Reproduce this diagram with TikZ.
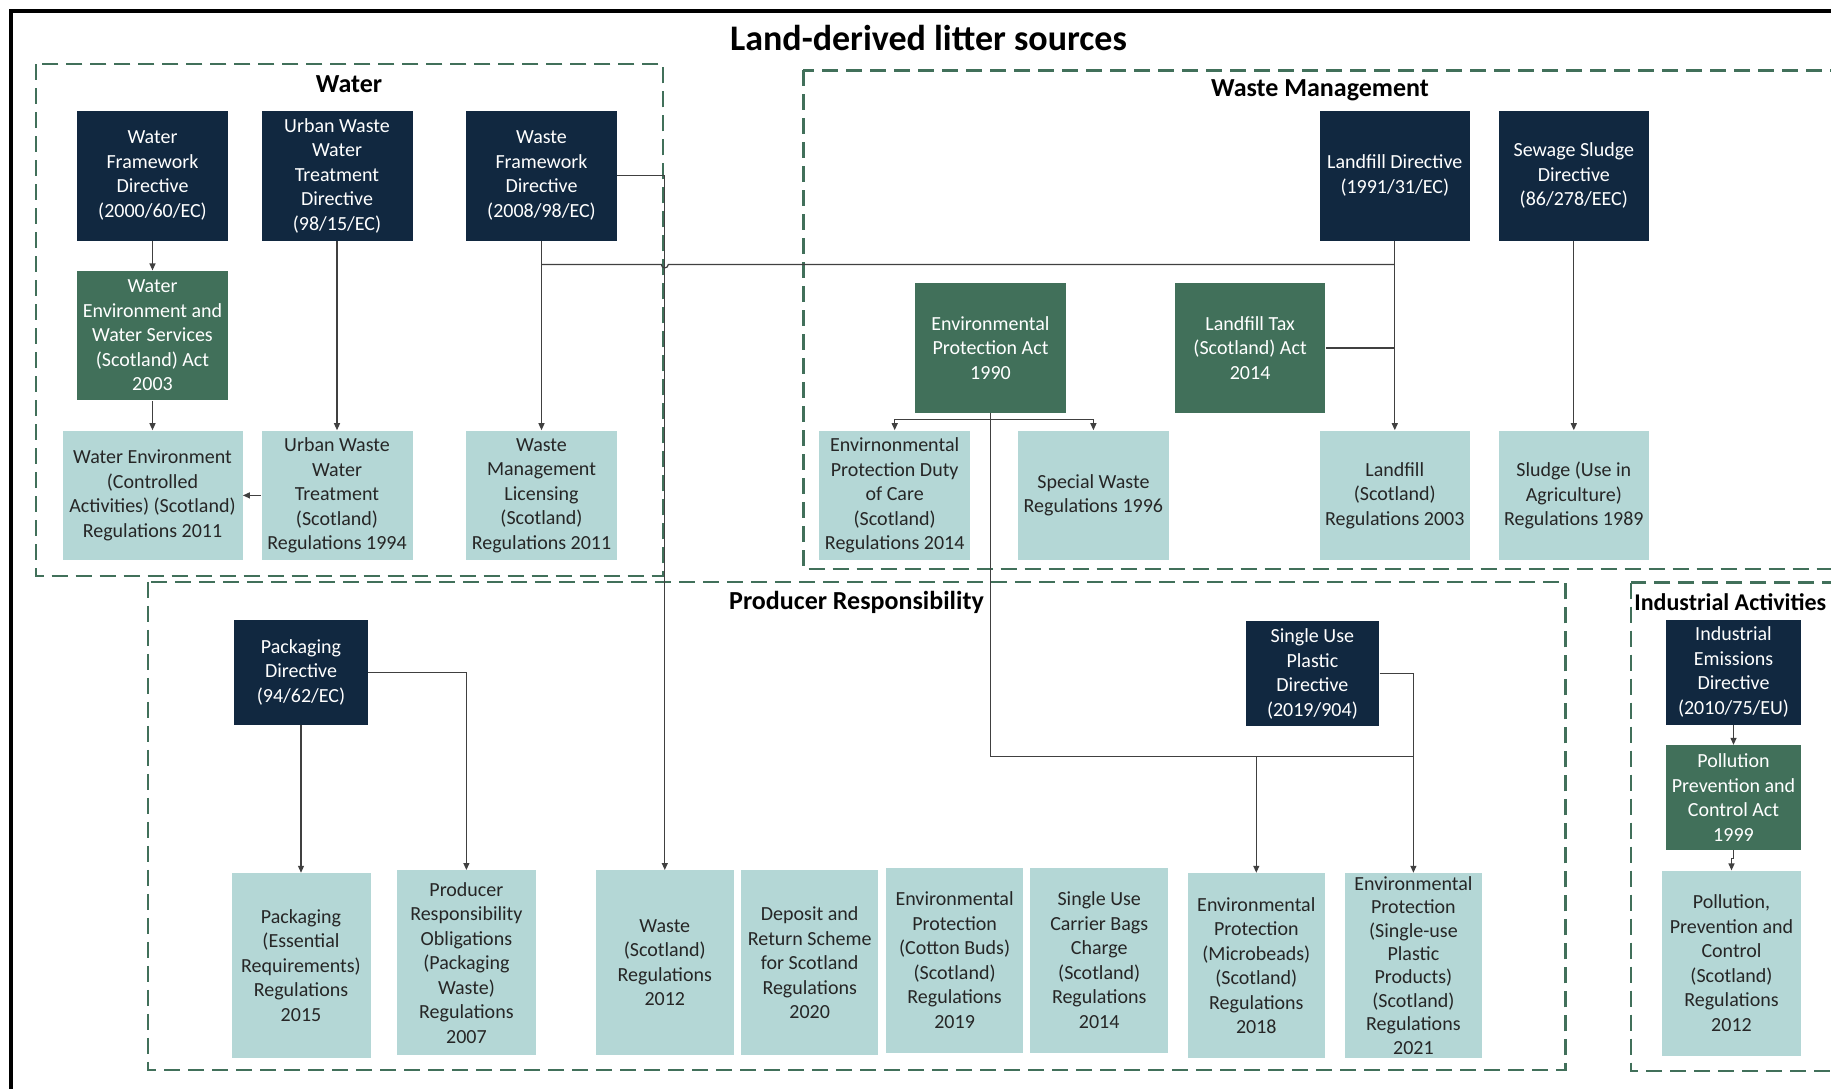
\documentclass[tikz,border=0pt]{standalone}
\usepackage{fontspec}
\setmainfont{Carlito}
\usetikzlibrary{arrows.meta,calc}
\definecolor{navy}{HTML}{112840}
\definecolor{dgreen}{HTML}{41705A}
\definecolor{tealbox}{HTML}{B4D7D6}
\definecolor{dashgreen}{HTML}{41705A}
\begin{document}
\begin{tikzpicture}[x=0.5pt,y=-0.5pt,
  box/.style={inner sep=0pt, align=center, font=\fontsize{10}{12.25}\selectfont},
  dirbox/.style={box, fill=navy, text=white},
  actbox/.style={box, fill=dgreen, text=white},
  regbox/.style={box, fill=tealbox, text=black!85},
  sz/.style 2 args={minimum width=#1*0.5pt, minimum height=#2*0.5pt},
  grp/.style={draw=dashgreen, line width=1.2pt, dash pattern=on 8pt off 4pt},
  conn/.style={line width=0.6pt, draw=black!75},
  arr/.style={conn, -{Triangle[length=3.5pt,width=3pt]}},
  gtitle/.style={inner sep=0pt, font=\bfseries\fontsize{13}{15}\selectfont}]
\useasboundingbox (0,0) rectangle (1831,1088);
\clip (0,0) rectangle (1831,1088);
\fill[white] (0,0) rectangle (1831,1088);
% outer frame
\draw[line width=2pt] (11,1100) -- (11,11) -- (1850,11);
% groups
\draw[grp] (35.7,64) rectangle (663,576);
\draw[grp] (803.3,70.4) rectangle (1870,569);
\draw[grp] (148.1,581.9) rectangle (1565.3,1070);
\draw[grp] (1630.8,582.6) rectangle (1870,1071);
% titles
\node[inner sep=0pt, font=\bfseries\fontsize{18}{21}\selectfont] (title) at (928.5,38) {Land-derived litter sources};
\node[gtitle] (twater) at (349,84.4) {Water};
\node[gtitle] (twm) at (1320,90.7) {Waste Management};
\node[gtitle] (tpr) at (856.5,602.5) {Producer Responsibility};
\node[gtitle, anchor=west, font=\bfseries\fontsize{12}{14}\selectfont] (tind) at (1634,602) {Industrial Activities};
% Water
\node[dirbox, sz={151}{130}] (wfd) at (152.5,175.5) {Water\\Framework\\Directive\\(2000/60/EC)};
\node[dirbox, sz={151}{130}] (uwwtd) at (337,175.5) {Urban Waste\\Water\\Treatment\\Directive\\(98/15/EC)};
\node[dirbox, sz={151}{130}] (wastefd) at (541.5,175.5) {Waste\\Framework\\Directive\\(2008/98/EC)};
\node[actbox, sz={151}{129.6}] (wews) at (152.5,335.6) {Water\\Environment and\\Water Services\\(Scotland) Act\\2003};
\node[regbox, sz={180}{129.6}] (wecar) at (152.5,495.4) {Water Environment\\(Controlled\\Activities) (Scotland)\\Regulations 2011};
\node[regbox, sz={151}{129.6}] (uwwtr) at (337,495.4) {Urban Waste\\Water\\Treatment\\(Scotland)\\Regulations 1994};
\node[regbox, sz={151}{129.6}] (wml) at (541.5,495.4) {Waste\\Management\\Licensing\\(Scotland)\\Regulations 2011};
% Waste management
\node[dirbox, sz={150.5}{130}] (lfd) at (1394.8,175.5) {Landfill Directive\\(1991/31/EC)};
\node[dirbox, sz={150.5}{130}] (ssd) at (1573.8,175.5) {Sewage Sludge\\Directive\\(86/278/EEC)};
\node[actbox, sz={151}{129.3}] (epa) at (990.5,348) {Environmental\\Protection Act\\1990};
\node[actbox, sz={150.6}{129.3}] (lft) at (1250.1,348) {Landfill Tax\\(Scotland) Act\\2014};
\node[regbox, sz={150.5}{129.6}] (docr) at (894.7,495.4) {Envirnonmental\\Protection Duty\\of Care\\(Scotland)\\Regulations 2014};
\node[regbox, sz={151}{129.6}] (swr) at (1093.4,495.4) {Special Waste\\Regulations 1996};
\node[regbox, sz={150.5}{129.6}] (lfr) at (1394.8,495.4) {Landfill\\(Scotland)\\Regulations 2003};
\node[regbox, sz={150.5}{129.6}] (sr) at (1573.8,495.4) {Sludge (Use in\\Agriculture)\\Regulations 1989};
% Producer responsibility
\node[dirbox, sz={133.8}{105}] (pkd) at (301,672.1) {Packaging\\Directive\\(94/62/EC)};
\node[dirbox, sz={133.4}{104.7}] (sup) at (1312.4,673.7) {Single Use\\Plastic\\Directive\\(2019/904)};
\node[regbox, sz={139}{184.5}] (pke) at (301,965.4) {Packaging\\(Essential\\Requirements)\\Regulations\\2015};
\node[regbox, sz={138.4}{184.6}] (pro) at (466.4,962.7) {Producer\\Responsibility\\Obligations\\(Packaging\\Waste)\\Regulations\\2007};
\node[regbox, sz={137.7}{184.6}] (wsr) at (664.8,962.7) {Waste\\(Scotland)\\Regulations\\2012};
\node[regbox, sz={137.2}{184.6}] (drs) at (809.7,962.7) {Deposit and\\Return Scheme\\for Scotland\\Regulations\\2020};
\node[regbox, sz={137.1}{184.6}] (cb) at (954.6,960.3) {Environmental\\Protection\\(Cotton Buds)\\(Scotland)\\Regulations\\2019};
\node[regbox, sz={137.6}{184.6}] (sucb) at (1099.2,960.3) {Single Use\\Carrier Bags\\Charge\\(Scotland)\\Regulations\\2014};
\node[regbox, sz={137.6}{184.5}] (mb) at (1256.3,965.4) {Environmental\\Protection\\(Microbeads)\\(Scotland)\\Regulations\\2018};
\node[regbox, sz={137.7}{184.5}, font=\fontsize{10}{11.7}\selectfont] (supp) at (1413.4,965.4) {Environmental\\Protection\\(Single-use\\Plastic\\Products)\\(Scotland)\\Regulations\\2021};
% Industrial
\node[dirbox, sz={134.1}{105}] (ied) at (1733.5,672.1) {Industrial\\Emissions\\Directive\\(2010/75/EU)};
\node[actbox, sz={134.1}{104.7}] (ppca) at (1733.5,797.6) {Pollution\\Prevention and\\Control Act\\1999};
\node[regbox, sz={138.3}{184.8}] (ppcr) at (1731.5,963.2) {Pollution,\\Prevention and\\Control\\(Scotland)\\Regulations\\2012};
% connectors
\draw[arr] (wfd.south) -- (wews.north);
\draw[arr] (wews.south) -- (wecar.north);
\draw[arr] (uwwtd.south) -- (uwwtr.north);
\draw[arr] (uwwtr.west) -- (wecar.east);
\draw[arr] (wastefd.south) -- (wml.north);
\coordinate (hj) at (541.5,264.4);
\draw[conn] (hj) -- (661.3,264.4) arc[start angle=180,end angle=0,radius=3.5] -- (lfd.south |- hj);
\draw[arr] (wastefd.east) -| (wsr.north);
\draw[arr] (lfd.south) -- (lfr.north);
\draw[conn] (lft.east) -- (lfd.south |- lft.east);
\draw[arr] (ssd.south) -- (sr.north);
\coordinate (epaj) at (990.5,419.6);
\coordinate (spj) at (990.5,756.3);
\draw[conn] (epa.south) -- (epaj);
\draw[arr] (epaj) -| (docr.north);
\draw[arr] (epaj) -| (swr.north);
\draw[conn] (epaj) -- (spj) -- (supp.north |- spj);
\draw[arr] (spj) -| (mb.north);
\draw[arr] (sup.east) -| (supp.north);
\draw[arr] (pkd.south) -- (pke.north);
\draw[arr] (pkd.east) -| (pro.north);
\draw[arr] (ied.south) -- (ppca.north);
\draw[arr] (ppca.south) -- ++(0,8) -| (ppcr.north);
\end{tikzpicture}
\end{document}
